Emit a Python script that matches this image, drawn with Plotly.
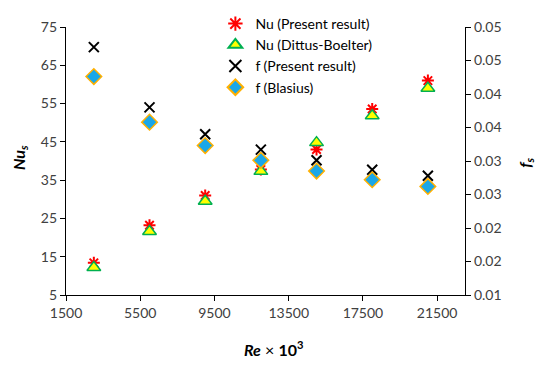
import plotly.graph_objects as go

re_vals = [3000, 6000, 9000, 12000, 15000, 18000, 21000]
nu_present = [13.4, 23.2, 31.0, 37.8, 43.0, 53.6, 61.0]
nu_dittus = [12.2, 21.6, 29.5, 37.3, 44.8, 51.8, 59.0]
f_present = [0.0470, 0.0380, 0.0340, 0.0317, 0.0301, 0.0287, 0.0278]
f_blasius = [0.0426, 0.0358, 0.0323, 0.0301, 0.0285, 0.0272, 0.0262]

x_ticks = [1500, 5500, 9500, 13500, 17500, 21500]
x_ticklabels = ["1500", "5500", "9500", "13500", "17500", "21500"]
y_ticks = [5, 15, 25, 35, 45, 55, 65, 75]
f_ticks = [0.01, 0.015, 0.02, 0.025, 0.03, 0.035, 0.04, 0.045, 0.05]
f_ticklabels = ["0.01", "0.02", "0.02", "0.03", "0.03", "0.04", "0.04", "0.05", "0.05"]

FONT = "Lato"
TICKCOL = "#404040"

fig = go.Figure()
fig.add_trace(go.Scatter(
    x=re_vals, y=nu_present, mode="markers", name="Nu (Present result)",
    marker=dict(symbol="asterisk-open", size=10, color="#FF0000",
                line=dict(color="#FF0000", width=2)),
))
fig.add_trace(go.Scatter(
    x=re_vals, y=nu_dittus, mode="markers", name="Nu (Dittus-Boelter)",
    marker=dict(symbol="triangle-up", size=12, color="#FFFF00",
                line=dict(color="#00B050", width=1.5)),
))
fig.add_trace(go.Scatter(
    x=re_vals, y=f_present, mode="markers", name="f (Present result)", yaxis="y2",
    marker=dict(symbol="x-thin-open", size=10, color="#000000",
                line=dict(color="#000000", width=2)),
))
fig.add_trace(go.Scatter(
    x=re_vals, y=f_blasius, mode="markers", name="f (Blasius)", yaxis="y2",
    marker=dict(symbol="diamond", size=12, color="#1AA7E8",
                line=dict(color="#FFB000", width=1.5)),
))

axis_common = dict(showgrid=False, zeroline=False, showline=True, linecolor="#000000",
                   linewidth=1.3, ticks="outside", ticklen=5, tickcolor="#000000",
                   automargin=False,
                   tickfont=dict(family=FONT, size=14, color=TICKCOL))

title_font = dict(family=FONT, size=16, color="#000000")

fig.update_layout(
    width=550, height=366,
    margin=dict(l=58, r=93, t=19, b=79, autoexpand=False),
    paper_bgcolor="white", plot_bgcolor="white",
    font=dict(family=FONT, color="#000000"),
    xaxis=dict(range=[1500, 23000], tickvals=x_ticks, ticktext=x_ticklabels, **axis_common),
    yaxis=dict(range=[5, 75], tickvals=y_ticks, **axis_common),
    yaxis2=dict(range=[0.01, 0.05], tickvals=f_ticks, ticktext=f_ticklabels,
                overlaying="y", side="right", **axis_common),
    legend=dict(x=0.3744, y=1.0709, xanchor="left", yanchor="top",
                bgcolor="rgba(0,0,0,0)", font=dict(family=FONT, size=14, color="#000000"),
                itemwidth=30, tracegroupgap=0, itemsizing="constant"),
    showlegend=True,
    annotations=[
        dict(text="<b><i>Nu<sub>s</sub></i></b>", xref="paper", yref="paper",
             x=-0.1153, y=0.515, textangle=-90, showarrow=False, font=title_font,
             xanchor="center", yanchor="middle"),
        dict(text="<b><i>f<sub>s</sub></i></b>", xref="paper", yref="paper",
             x=1.150, y=0.4925, textangle=-90, showarrow=False, font=title_font,
             xanchor="center", yanchor="middle"),
        dict(text="<b><i>Re</i></b> × <b>10<sup>3</sup></b>", xref="paper", yref="paper",
             x=0.5188, y=-0.1978, showarrow=False, font=title_font,
             xanchor="center", yanchor="middle"),
    ],
)

fig.write_html("out.html")
